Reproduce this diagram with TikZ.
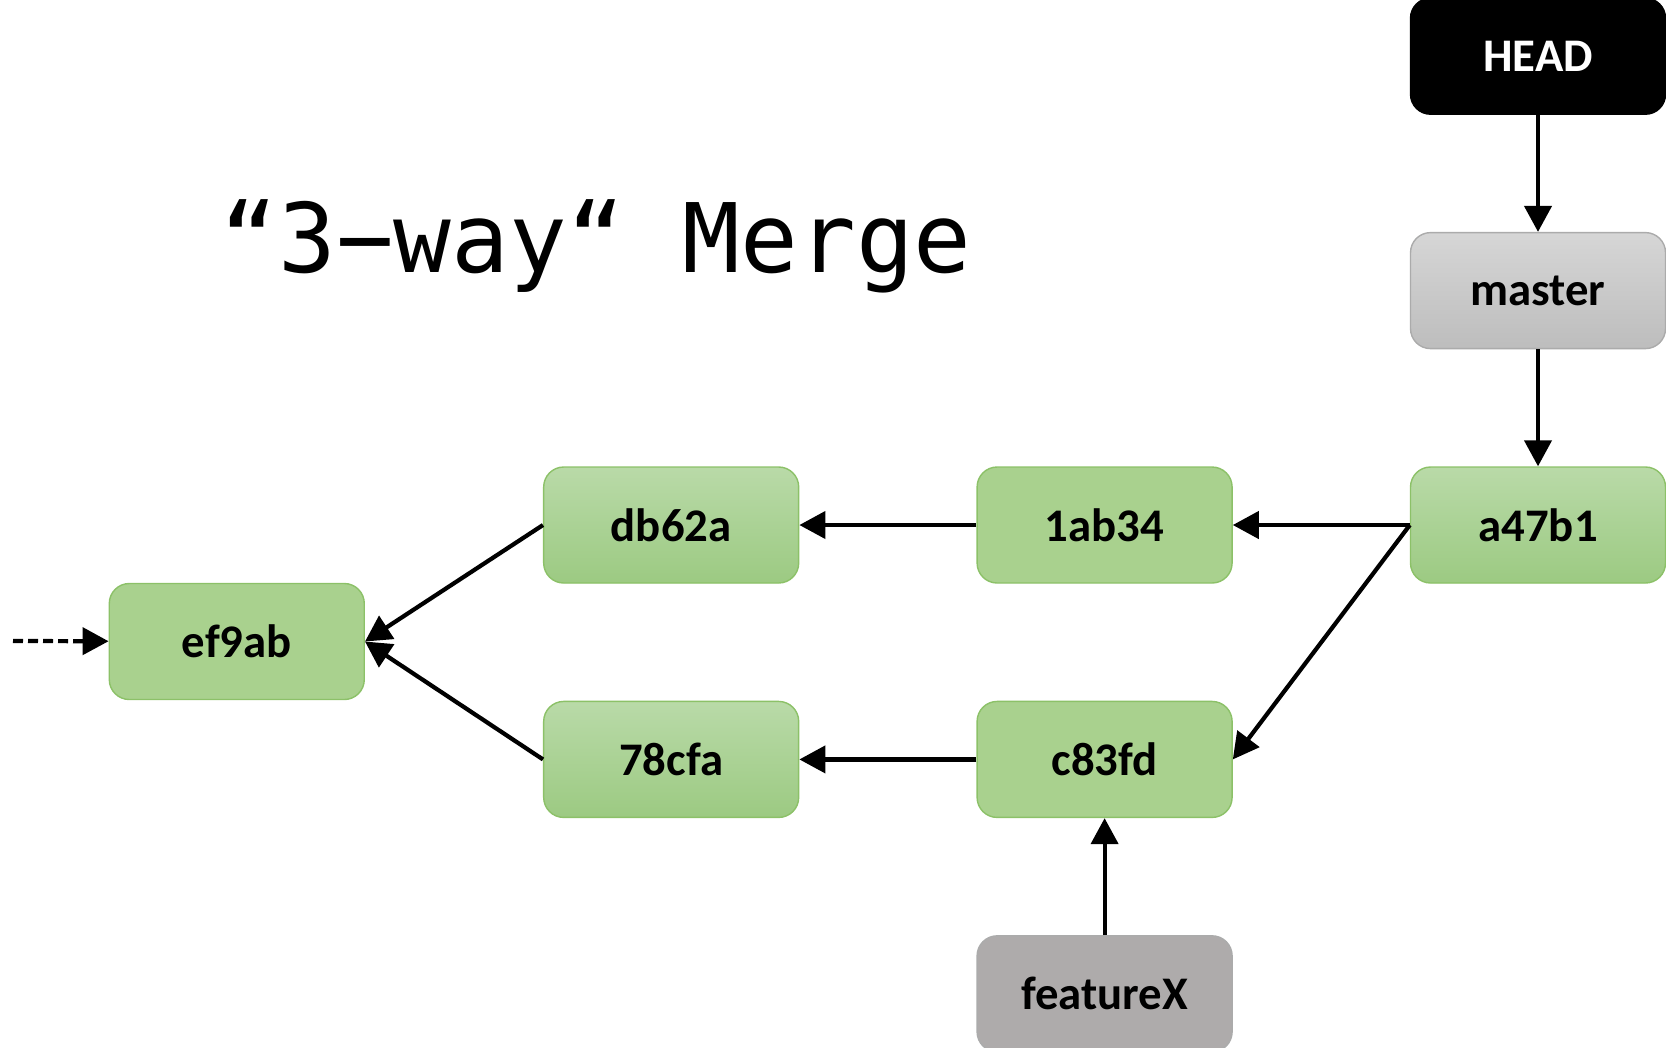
\documentclass[tikz,border=0pt]{standalone}
\usepackage{fontspec}
\setmainfont{Carlito}
\newfontfamily\titlefont{DejaVu Sans Mono}
\usetikzlibrary{arrows.meta, positioning}
\definecolor{commitgreen}{HTML}{A9D18E}
\definecolor{commitedge}{HTML}{8CC168}
\definecolor{committop}{HTML}{B9DAA8}
\definecolor{commitbot}{HTML}{9CCA82}
\definecolor{branchtop}{HTML}{D6D6D6}
\definecolor{branchbot}{HTML}{BDBDBD}
\definecolor{branchedge}{HTML}{ABABAB}
\definecolor{featgray}{HTML}{AEABAB}
\tikzset{
  commit/.style={rectangle, rounded corners=0.2cm, draw=commitedge, fill=commitgreen, minimum width=2.55cm, minimum height=1.16cm, align=center, font=\fontsize{13.3}{15}\selectfont\bfseries},
  shaded commit/.style={commit, top color=committop, bottom color=commitbot},
  branch/.style={commit, draw=branchedge, top color=branchtop, bottom color=branchbot},
  feature/.style={commit, draw=branchedge, fill=featgray},
  headref/.style={commit, draw=black, fill=black, text=white},
  arrow/.style={-{Triangle[length=0.26cm, width=0.27cm]}, line width=1.2pt}
}
\begin{document}
\begin{tikzpicture}[node distance=1.17cm and 1.77cm]
  \useasboundingbox (0,0) rectangle (16.66,-10.47);
  \node[anchor=base west, inner sep=0pt, font=\titlefont\fontsize{27.3}{31}\selectfont] (title) at (2.2,-2.72) {“3−way“ Merge};
  \node[shaded commit] (ca47b1) at (15.38,-5.25) {a47b1};
  \node[branch, above=of ca47b1] (master) {master};
  \node[headref, above=of master] (head) {HEAD};
  \node[commit, left=of ca47b1] (c1ab34) {1ab34};
  \node[shaded commit, left=of c1ab34] (cdb62a) {db62a};
  \node[commit, below=of c1ab34] (cc83fd) {c83fd};
  \node[shaded commit, below=of cdb62a] (c78cfa) {78cfa};
  \node[commit, left=1.78cm of cdb62a.west, yshift=-1.165cm] (cef9ab) {ef9ab};
  \node[feature, below=of cc83fd] (featurex) {featureX};
  \coordinate (tail) at (0.13,-6.41);
  \draw[arrow] (head) -- (master);
  \draw[arrow] (master) -- (ca47b1);
  \draw[arrow] (ca47b1.west) -- (c1ab34.east);
  \draw[arrow] (ca47b1.west) -- (cc83fd.east);
  \draw[arrow] (c1ab34) -- (cdb62a);
  \draw[arrow] (cc83fd) -- (c78cfa);
  \draw[arrow] (cdb62a.west) -- (cef9ab.east);
  \draw[arrow] (c78cfa.west) -- (cef9ab.east);
  \draw[arrow] (featurex) -- (cc83fd);
  \draw[arrow, dash pattern=on 0.1cm off 0.05cm] (tail) -- (cef9ab);
\end{tikzpicture}
\end{document}
